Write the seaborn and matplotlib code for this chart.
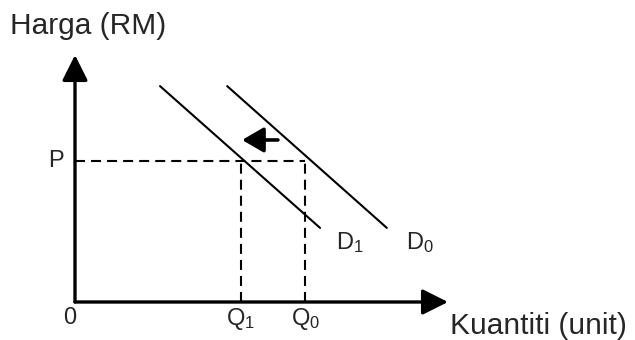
import matplotlib
matplotlib.use("Agg")
import matplotlib.pyplot as plt
import seaborn as sns
import pandas as pd

# demand curves (quantity, price) end points
d0_q = [4.08, 8.36]
d0_p = [8.74, 3.0]
d1_q = [2.28, 6.57]
d1_p = [8.74, 3.0]

# equilibrium markers
price_p = 5.71
q1 = 4.45
q0 = 6.17

# shift arrow (from D0 side toward D1)
shift_from = (5.44, 6.56)
shift_to = (4.48, 6.56)

sns.set_theme(style="white")
plt.rcParams["font.family"] = ["Liberation Sans", "DejaVu Sans"]
plt.rcParams["mathtext.fontset"] = "custom"
plt.rcParams["mathtext.rm"] = "Liberation Sans"
plt.rcParams["mathtext.it"] = "Liberation Sans"

fig = plt.figure(figsize=(6.35, 3.4), dpi=100)
fig.patch.set_facecolor("white")
ax = fig.add_axes([75 / 635, 38 / 340, 373 / 635, 247 / 340])
ax.set_xlim(0, 10)
ax.set_ylim(0, 10)
ax.axis("off")

curves = pd.DataFrame({
    "q": d0_q + d1_q,
    "p": d0_p + d1_p,
    "curve": ["D0", "D0", "D1", "D1"],
})
sns.lineplot(data=curves, x="q", y="p", hue="curve", units="curve", estimator=None,
             palette=["black", "black"], linewidth=1.5, legend=False, sort=False, ax=ax)

# dashed guide lines
dash = (0, (4.8, 2.9))
ax.plot([0, q0], [price_p, price_p], color="black", lw=1.5, linestyle=dash)
ax.plot([q1, q1], [0, price_p], color="black", lw=1.5, linestyle=dash)
ax.plot([q0, q0], [0, price_p], color="black", lw=1.5, linestyle=dash)

# axes with arrow heads
axis_arrow = dict(arrowstyle="-|>,head_length=0.6,head_width=0.3",
                  lw=2.4, color="black", mutation_scale=26, shrinkA=0, shrinkB=0)
ax.annotate("", xy=(0, 10), xytext=(0, 0), arrowprops=axis_arrow, annotation_clip=False)
ax.annotate("", xy=(10, 0), xytext=(0, 0), arrowprops=axis_arrow, annotation_clip=False)

# shift arrow
ax.annotate("", xy=shift_to, xytext=shift_from,
            arrowprops=dict(arrowstyle="-|>,head_length=0.55,head_width=0.32",
                            lw=2.6, color="black", mutation_scale=24, shrinkA=0, shrinkB=0))

# labels
fs = 17
ax.text(-0.15, -0.65, "0", fontsize=fs, ha="center", va="center")
ax.text(-0.5, price_p, "P", fontsize=fs, ha="center", va="center")
ax.text(q1, -0.7, "Q$_1$", fontsize=fs, ha="center", va="center")
ax.text(q0, -0.7, "Q$_0$", fontsize=fs, ha="center", va="center")
ax.text(7.37, 2.4, "D$_1$", fontsize=fs, ha="center", va="center")
ax.text(9.25, 2.4, "D$_0$", fontsize=fs, ha="center", va="center")

fig.text(10 / 635, 1 - 26 / 340, "Harga (RM)", fontsize=21.5, ha="left", va="center")
fig.text(450 / 635, 1 - 326 / 340, "Kuantiti (unit)", fontsize=21.5, ha="left", va="center")

fig.savefig("out.png", dpi=100)
